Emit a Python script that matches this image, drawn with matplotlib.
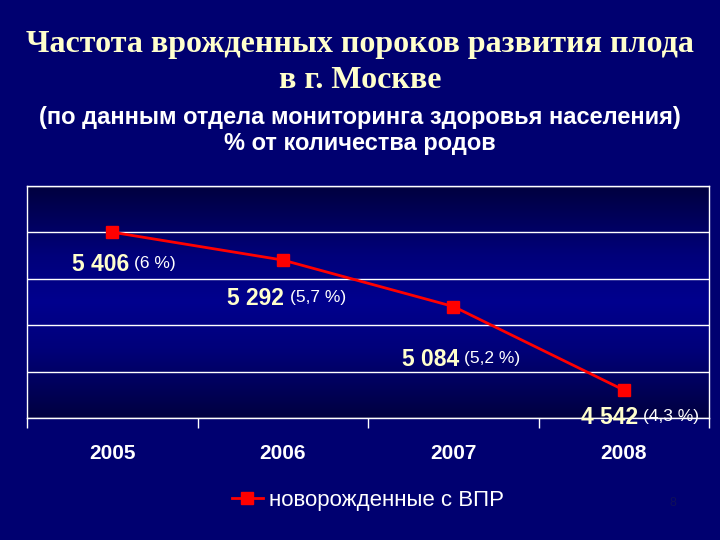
import matplotlib
matplotlib.use("Agg")
import matplotlib.pyplot as plt
import numpy as np
from matplotlib.colors import LinearSegmentedColormap
from matplotlib.lines import Line2D

years = ["2005", "2006", "2007", "2008"]
counts = ["5 406", "5 292", "5 084", "4 542"]
percents = [6.0, 5.7, 5.2, 4.3]
percent_labels = ["(6 %)", "(5,7 %)", "(5,2 %)", "(4,3 %)"]
series_name = "новорожденные с ВПР"
title1 = "Частота врожденных пороков развития плода"
title2 = "в г. Москве"
subtitle1 = "(по данным отдела мониторинга здоровья населения)"
subtitle2 = "% от количества родов"

BG = "#000070"
fig = plt.figure(figsize=(7.2, 5.4), dpi=100, facecolor=BG)
ax = fig.add_axes([0.0375, 0.226, 0.9475, 0.43])
ax.set_facecolor(BG)

# gradient background in plot area
cmap = LinearSegmentedColormap.from_list(
    "g", [(0.0, "#00003e"), (0.3, "#00007a"), (0.5, "#00008e"),
          (0.7, "#00007a"), (1.0, "#000040")])
grad = np.linspace(0, 1, 256).reshape(-1, 1)
ax.imshow(grad, cmap=cmap, aspect="auto", extent=(-0.5, 3.5, 4.0, 6.5),
          origin="upper", zorder=0)

x = np.arange(len(years))
ax.plot(x, percents, color="#ff0000", lw=2, marker="s", ms=9,
        mec="#ff0000", mfc="#ff0000", zorder=3)

ax.set_xlim(-0.5, 3.5)
ax.set_ylim(4.0, 6.5)
ax.set_yticks([4.0, 4.5, 5.0, 5.5, 6.0, 6.5])
ax.set_yticklabels([])
ax.tick_params(axis="y", length=0)
ax.grid(axis="y", color="white", lw=1, zorder=1)

ax.set_xticks(x)
ax.set_xticklabels(years, color="white", fontsize=15, fontweight="bold",
                   family="Liberation Sans")
ax.tick_params(axis="x", length=0, pad=19)
ax.set_xticks(np.arange(-0.5, 4.0, 1.0), minor=True)
ax.tick_params(axis="x", which="minor", length=7, color="white", width=1)

for side in ["left", "right", "top", "bottom"]:
    ax.spines[side].set_color("white")
    ax.spines[side].set_linewidth(1)

# offsets in points: (dx of split between number and percent, dy)
offsets = [(14, -21.5), (3, -26), (6, -36), (12, -18)]
for xi, yi, c, p, (dx, dy) in zip(x, percents, counts, percent_labels, offsets):
    ax.annotate(c, (xi, yi), xytext=(dx - 2, dy), textcoords="offset points",
                ha="right", va="center_baseline", color="#ffffcc", fontsize=16.5,
                fontweight="bold", family="Liberation Sans",
                annotation_clip=False, zorder=4)
    ax.annotate(p, (xi, yi), xytext=(dx + 2, dy), textcoords="offset points",
                ha="left", va="center_baseline", color="white", fontsize=12.5,
                family="Liberation Sans", annotation_clip=False, zorder=4)

fig.text(0.5, 0.917, title1, ha="center", va="center", color="#ffffcc",
         fontsize=23, fontweight="bold", family="Liberation Serif")
fig.text(0.5, 0.85, title2, ha="center", va="center", color="#ffffcc",
         fontsize=23, fontweight="bold", family="Liberation Serif")
fig.text(0.5, 0.782, subtitle1, ha="center", va="center", color="white",
         fontsize=17, fontweight="bold", family="Liberation Sans")
fig.text(0.5, 0.734, subtitle2, ha="center", va="center", color="white",
         fontsize=17, fontweight="bold", family="Liberation Sans")

handle = Line2D([], [], color="#ff0000", lw=2, marker="s", ms=8,
                mec="#ff0000", mfc="#ff0000")
leg = fig.legend([handle], [series_name], loc="center",
                 bbox_to_anchor=(0.511, 0.074), frameon=False,
                 prop={"family": "Liberation Sans", "size": 16},
                 handlelength=1.4, handletextpad=0.3)
for t in leg.get_texts():
    t.set_color("white")

fig.text(0.935, 0.068, "8", color="#10105a", fontsize=9, ha="center",
         va="center", family="Liberation Sans")

fig.savefig("out.png", dpi=100, facecolor=BG)
